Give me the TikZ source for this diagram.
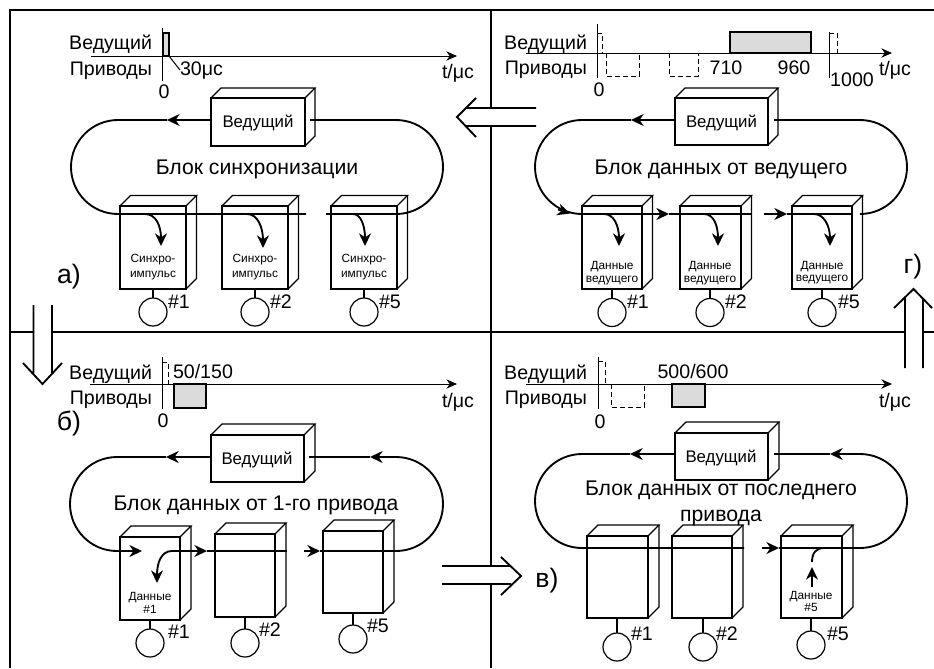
\documentclass[tikz,border=0pt]{standalone}
\usepackage{fontspec}
\setmainfont{Liberation Sans}
\usetikzlibrary{arrows.meta}
\newcommand{\pxsize}[1]{\fontsize{#1}{#1}\selectfont}
\tikzset{
  framel/.style={line width=1.4pt,black},
  hollow/.style={line width=1.4pt,black},
  cubel/.style={line width=0.9pt,black},
  flow/.style={line width=1.4pt,black},
  flowarr/.style={line width=1.4pt,black,-{Stealth[length=9.5pt,width=9pt]}},
  axisl/.style={line width=0.75pt,black},
  axisarr/.style={line width=0.75pt,black,-{Stealth[length=8pt,width=7pt]}},
  dashl/.style={line width=0.75pt,dash pattern=on 3.5pt off 2.5pt},
  graybar/.style={line width=0.85pt,draw=black,fill=black!14},
  lab/.style={inner sep=0pt,outer sep=0pt,font=\pxsize{14.7}},
  ttl/.style={inner sep=0pt,outer sep=0pt,font=\pxsize{15.9}},
  small/.style={inner sep=0pt,outer sep=0pt,font=\pxsize{8.9}},
  mast/.style={inner sep=0pt,outer sep=0pt,font=\pxsize{12.6}},
  tag/.style={inner sep=0pt,outer sep=0pt,font=\pxsize{20}},
  motor/.style={circle,draw,line width=0.9pt,minimum size=21pt,inner sep=0pt,outer sep=0pt},
}
% name, x1, y1, x2, y2, depth
\newcommand{\cuboid}[6]{%
  \pgfmathsetmacro{\cw}{(#4-#2)*0.75}%
  \pgfmathsetmacro{\ch}{(#5-#3)*0.75}%
  \pgfmathsetmacro{\cx}{(#2+#4)/2}%
  \pgfmathsetmacro{\cy}{(#3+#5)/2}%
  \node[draw,cubel,rectangle,inner sep=0pt,outer sep=0pt,minimum width=\cw pt,minimum height=\ch pt] (#1) at (\cx,\cy) {};
  \draw[cubel] (#1.north west) -- ++(#6,-#6) -- ++(#4-#2,0) -- (#1.north east);
  \draw[cubel] (#1.south east) -- ++(#6,-#6) -- ++(0,#3-#5);
}
\begin{document}
\begin{tikzpicture}[x=0.75pt,y=-0.75pt]
\useasboundingbox (0,0) rectangle (934,668);
\fill[white] (0,0) rectangle (934,668);
% frame
\draw[framel] (934,10) -- (10,10) -- (10,668);
\draw[framel] (491,10) -- (491,668);
\draw[framel] (10,332) -- (934,332);
% hollow arrows
\fill[white] (466,108) rectangle (536,126);
\draw[hollow] (536,108) -- (466,108) (536,126) -- (466,126) (476,98) -- (457,117) -- (476,137);
\fill[white] (33.5,305) rectangle (52,373);
\draw[hollow] (33.5,305) -- (33.5,373) (52,305) -- (52,373) (23,363) -- (42.5,384) -- (62,363);
\fill[white] (442,566) rectangle (511,584);
\draw[hollow] (442,566) -- (511,566) (442,584) -- (511,584) (501,557) -- (521,576) -- (501,595);
\fill[white] (905,298) rectangle (923,368);
\draw[hollow] (905,368) -- (905,298) (923,368) -- (923,298) (894,308) -- (913.5,289) -- (932,308);
% tags
\node[tag,anchor=base] (tagA) at (69,283) {а)};
\node[tag,anchor=base] (tagB) at (69,430) {б)};
\node[tag,anchor=base] (tagC) at (547,587) {в)};
\node[tag,anchor=base] (tagD) at (913,273) {г)};

%%%%%%%%%%%% panel a
\coordinate (aAs) at (91,56); \coordinate (aAe) at (457,56);
\draw[axisarr] (aAs) -- (aAe);
\coordinate (aVt) at (162,28); \coordinate (aVb) at (162,81);
\draw[axisl] (aVt) -- (aVb);
\draw[graybar] (163,33) rectangle (169,56);
\node[lab,anchor=base east] (aLm) at (152,49) {Ведущий};
\node[lab,anchor=base east] (aLd) at (152,75) {Приводы};
\node[lab,anchor=base west] (aT) at (180,75) {30μс};
\coordinate (aTk) at (169,56);
\draw[axisl] (aTk) -- (aT.west);
\node[lab,anchor=base] (aZ) at (164,98) {0};
\node[lab,anchor=base west] (aU) at (442,78) {t/μс};
\cuboid{am}{211}{98}{305}{146}{10}
\node[mast,anchor=base] (amt) at (258,127) {Ведущий};
\node[ttl,anchor=base] (aTi) at (257,174) {Блок синхронизации};
\coordinate (a1) at (167,120); \coordinate (a2) at (310,120); \coordinate (a3) at (306,214); \coordinate (a4) at (326,214);
\draw[flowarr] (am.west |- a1) -- (a1);
\draw[flow] (a1) -- (118,120) arc[start angle=90,end angle=270,radius=35.25pt] -- (a3);
\draw[flow] (a2) -- (396,120) arc[start angle=90,end angle=-90,radius=35.25pt] -- (a4);
\cuboid{ad1}{120}{206}{186}{289}{10.5}
\cuboid{ad2}{222}{206}{288}{289}{10.5}
\cuboid{ad3}{331}{206}{397}{289}{10.5}
\draw[flowarr] (145,214) .. controls (156,214) and (161,226) .. (161,246);
\draw[flowarr] (247,214) .. controls (258,214) and (263,228) .. (263,248);
\draw[flowarr] (353,214) .. controls (361,214) and (365,226) .. (365,246);
\node[small,anchor=base] (ad1a) at (153,262) {Синхро-};
\node[small,anchor=base] (ad1b) at (153,277) {импульс};
\node[small,anchor=base] (ad2a) at (255,262) {Синхро-};
\node[small,anchor=base] (ad2b) at (255,277) {импульс};
\node[small,anchor=base] (ad3a) at (364,262) {Синхро-};
\node[small,anchor=base] (ad3b) at (364,277) {импульс};
\node[motor] (ac1) at (153,312) {}; \draw[cubel] (ad1.south -| ac1.north) -- (ac1.north);
\node[motor] (ac2) at (255,312) {}; \draw[cubel] (ad2.south -| ac2.north) -- (ac2.north);
\node[motor] (ac3) at (364,312) {}; \draw[cubel] (ad3.south -| ac3.north) -- (ac3.north);
\node[lab,anchor=base west] (an1) at (168,308) {\#1};
\node[lab,anchor=base west] (an2) at (270,308) {\#2};
\node[lab,anchor=base west] (an3) at (379,308) {\#5};

%%%%%%%%%%%% panel g (top right)
\coordinate (gAs) at (526,53); \coordinate (gAe) at (892,53);
\draw[axisarr] (gAs) -- (gAe);
\coordinate (gVt) at (597,24); \coordinate (gVb) at (597,78);
\draw[axisl] (gVt) -- (gVb);
\coordinate (gWt) at (829,32); \coordinate (gWb) at (829,78);
\draw[axisl] (gWt) -- (gWb);
\draw[dashl] (597,33) -- (602,33) -- (602,53);
\draw[dashl] (606,53) -- (606,76) -- (639,76) -- (639,53);
\draw[dashl] (669,53) -- (669,76) -- (698,76) -- (698,53);
\draw[graybar] (730,32) rectangle (811,53);
\draw[dashl] (829,33) -- (837,33) -- (837,53);
\node[lab,anchor=base east] (gLm) at (587,49) {Ведущий};
\node[lab,anchor=base east] (gLd) at (587,74) {Приводы};
\node[lab,anchor=base] (gZ) at (599,96) {0};
\node[lab,anchor=base] (g710) at (726,74) {710};
\node[lab,anchor=base] (g960) at (794,74) {960};
\node[lab,anchor=base] (g1000) at (852,86) {1000};
\node[lab,anchor=base west] (gU) at (879,75) {t/μс};
\cuboid{gm}{675}{98}{768}{145}{10}
\node[mast,anchor=base] (gmt) at (721.5,127) {Ведущий};
\node[ttl,anchor=base] (gTi) at (721,174) {Блок данных от ведущего};
\coordinate (g1) at (631,120); \coordinate (g2) at (774,120);
\coordinate (g3s) at (558,209.5); \coordinate (g3) at (570,213.5); \coordinate (g4) at (669,214); \coordinate (g5) at (752,214);
\coordinate (g6) at (764,214); \coordinate (g7) at (787,214); \coordinate (g8) at (853,214); \coordinate (g9) at (863,214);
\draw[flowarr] (gm.west |- g1) -- (g1);
\draw[flow] (g1) -- (582,120) arc[start angle=90,end angle=270,radius=35.25pt];
\draw[flowarr] (g3s) -- (g3);
\draw[flowarr] (582,214) -- (g4);
\draw[flow] (g4) -- (g5);
\draw[flowarr] (g6) -- (g7);
\draw[flow] (g7) -- (g8);
\draw[flow] (g2) -- (860,120) arc[start angle=90,end angle=-90,radius=35.25pt] -- (g9);
\cuboid{gd1}{582}{206}{642}{289}{10.5}
\cuboid{gd2}{680}{206}{741}{289}{10.5}
\cuboid{gd3}{792}{206}{852}{289}{10.5}
\draw[flowarr] (604,214) .. controls (614,214) and (619,226) .. (619,246);
\draw[flowarr] (704,214) .. controls (714,214) and (718,226) .. (718,246);
\draw[flowarr] (814,214) .. controls (824,214) and (830,226) .. (830,246);
\node[small,anchor=base] (gd1a) at (612,269) {Данные};
\node[small,anchor=base] (gd1b) at (612,282) {ведущего};
\node[small,anchor=base] (gd2a) at (710,269) {Данные};
\node[small,anchor=base] (gd2b) at (710,282) {ведущего};
\node[small,anchor=base] (gd3a) at (822,269) {Данные};
\node[small,anchor=base] (gd3b) at (822,281) {ведущего};
\node[motor] (gc1) at (612,312.5) {}; \draw[cubel] (gd1.south -| gc1.north) -- (gc1.north);
\node[motor] (gc2) at (710,312.5) {}; \draw[cubel] (gd2.south -| gc2.north) -- (gc2.north);
\node[motor] (gc3) at (822,312.5) {}; \draw[cubel] (gd3.south -| gc3.north) -- (gc3.north);
\node[lab,anchor=base west] (gn1) at (627,308) {\#1};
\node[lab,anchor=base west] (gn2) at (725,308) {\#2};
\node[lab,anchor=base west] (gn3) at (838,308) {\#5};

%%%%%%%%%%%% panel b (bottom left)
\coordinate (bAs) at (90,384); \coordinate (bAe) at (457,384);
\draw[axisarr] (bAs) -- (bAe);
\coordinate (bVt) at (162,357); \coordinate (bVb) at (162,409);
\draw[axisl] (bVt) -- (bVb);
\draw[dashl] (162,362) -- (168,362) -- (168,384);
\draw[graybar] (174,384) rectangle (206,408);
\node[lab,anchor=base east] (bLm) at (152,379) {Ведущий};
\node[lab,anchor=base east] (bLd) at (152,404) {Приводы};
\node[lab,anchor=base west] (bT) at (173,378) {50/150};
\node[lab,anchor=base] (bZ) at (163,427) {0};
\node[lab,anchor=base west] (bU) at (442,407) {t/μс};
\cuboid{bm}{211}{435}{304}{482}{11}
\node[mast,anchor=base] (bmt) at (257,464) {Ведущий};
\node[ttl,anchor=base] (bTi) at (256,510) {Блок данных от 1-го привода};
\coordinate (b1) at (166,457); \coordinate (b2) at (309,457); \coordinate (b3) at (370,457);
\coordinate (b4) at (142,551); \coordinate (b5) at (207,551); \coordinate (b6) at (287,551);
\coordinate (b7) at (304,551); \coordinate (b8) at (320,551); \coordinate (b9) at (172,551); \coordinate (b10) at (157,583);
\draw[flowarr] (bm.west |- b1) -- (b1);
\draw[flow] (b1) -- (117,457) arc[start angle=90,end angle=180,radius=35.25pt];
\draw[flowarr] (70,504) arc[start angle=180,end angle=270,radius=35.25pt] -- (b4);
\draw[flow] (b2) -- (b3);
\draw[flowarr] (443,504) arc[start angle=0,end angle=90,radius=35.25pt] -- (b3);
\draw[flowarr] (b9) -- (b5);
\draw[flow] (b5) -- (b6);
\draw[flowarr] (b9) .. controls (161,551) and (157,563) .. (b10);
\draw[flowarr] (b7) -- (b8);
\draw[flow] (b8) -- (396,551) arc[start angle=-90,end angle=0,radius=35.25pt];
\cuboid{bd1}{120}{537}{180}{620}{11}
\cuboid{bd2}{215}{534}{275}{617}{11}
\cuboid{bd3}{323}{531}{383}{613}{11}
\node[small,anchor=base] (bd1a) at (150,600) {Данные};
\node[small,anchor=base] (bd1b) at (150,613) {\#1};
\node[motor] (bc1) at (150,643) {}; \draw[cubel] (bd1.south -| bc1.north) -- (bc1.north);
\node[motor] (bc2) at (245,643) {}; \draw[cubel] (bd2.south -| bc2.north) -- (bc2.north);
\node[motor] (bc3) at (353,639) {}; \draw[cubel] (bd3.south -| bc3.north) -- (bc3.north);
\node[lab,anchor=base west] (bn1) at (168,638) {\#1};
\node[lab,anchor=base west] (bn2) at (259,636) {\#2};
\node[lab,anchor=base west] (bn3) at (367,632) {\#5};

%%%%%%%%%%%% panel v (bottom right)
\coordinate (vAs) at (526,384); \coordinate (vAe) at (892,384);
\draw[axisarr] (vAs) -- (vAe);
\coordinate (vVt) at (598,357); \coordinate (vVb) at (598,409);
\draw[axisl] (vVt) -- (vVb);
\draw[dashl] (598,361) -- (605,361) -- (605,384);
\draw[dashl] (611,384) -- (611,407) -- (644,407) -- (644,384);
\draw[graybar] (672,384) rectangle (705,407);
\node[lab,anchor=base east] (vLm) at (587,379) {Ведущий};
\node[lab,anchor=base east] (vLd) at (587,404) {Приводы};
\node[lab,anchor=base] (vT) at (693,378) {500/600};
\node[lab,anchor=base] (vZ) at (600,428) {0};
\node[lab,anchor=base west] (vU) at (879,407) {t/μс};
\cuboid{vm}{675}{433}{768}{480}{11}
\node[mast,anchor=base] (vmt) at (721,462) {Ведущий};
\node[ttl,anchor=base] (vTi) at (721,495) {Блок данных от последнего};
\node[ttl,anchor=base] (vTj) at (721,521) {привода};
\coordinate (v1) at (630,454); \coordinate (v2) at (774,454); \coordinate (v3) at (830,454);
\coordinate (v4) at (744,548); \coordinate (v5) at (762,548); \coordinate (v6) at (779,548);
\coordinate (v7) at (824,548); \coordinate (v8) at (812,562); \coordinate (v9) at (812,587); \coordinate (v10) at (812,567);
\draw[flowarr] (vm.west |- v1) -- (v1);
\draw[flow] (v1) -- (582,454) arc[start angle=90,end angle=270,radius=35.25pt] -- (v4);
\draw[flow] (v2) -- (v3);
\draw[flowarr] (907,501) arc[start angle=0,end angle=90,radius=35.25pt] -- (v3);
\draw[flowarr] (v5) -- (v6);
\draw[flow] (v6) -- (860,548) arc[start angle=-90,end angle=0,radius=35.25pt];
\draw[flow] (v7) .. controls (816,548) and (812,553) .. (v8);
\draw[flowarr] (v9) -- (v10);
\cuboid{vd1}{587}{536}{648}{618}{11}
\cuboid{vd2}{672}{536}{732}{618}{11}
\cuboid{vd3}{781}{536}{842}{618}{11}
\node[small,anchor=base] (vd3a) at (811,599) {Данные};
\node[small,anchor=base] (vd3b) at (811,611) {\#5};
\node[motor] (vc1) at (617,647) {}; \draw[cubel] (vd1.south -| vc1.north) -- (vc1.north);
\node[motor] (vc2) at (703,647) {}; \draw[cubel] (vd2.south -| vc2.north) -- (vc2.north);
\node[motor] (vc3) at (811,645) {}; \draw[cubel] (vd3.south -| vc3.north) -- (vc3.north);
\node[lab,anchor=base west] (vn1) at (631,640) {\#1};
\node[lab,anchor=base west] (vn2) at (716,640) {\#2};
\node[lab,anchor=base west] (vn3) at (827,640) {\#5};
\end{tikzpicture}
\end{document}
